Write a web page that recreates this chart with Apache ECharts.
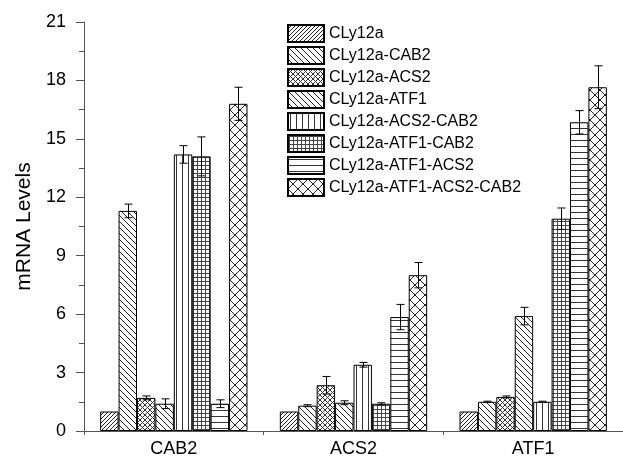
<!DOCTYPE html>
<html><head><meta charset="utf-8">
<script src="https://cdn.jsdelivr.net/npm/echarts@6/dist/echarts.min.js"></script>
<style>html,body{margin:0;padding:0;background:#fff}#c{width:623px;height:465px}</style>
</head><body><div id="c"></div>
<script>
const categories = ['CAB2', 'ACS2', 'ATF1'];
const seriesNames = ['CLy12a', 'CLy12a-CAB2', 'CLy12a-ACS2', 'CLy12a-ATF1', 'CLy12a-ACS2-CAB2', 'CLy12a-ATF1-CAB2', 'CLy12a-ATF1-ACS2', 'CLy12a-ATF1-ACS2-CAB2'];
const vCLy12a = [1.0, 1.0, 1.0];
const vCAB2 = [11.3, 1.3, 1.5];
const vACS2 = [1.7, 2.35, 1.75];
const vATF1 = [1.4, 1.45, 5.9];
const vACS2CAB2 = [14.2, 3.4, 1.5];
const vATF1CAB2 = [14.1, 1.4, 10.9];
const vATF1ACS2 = [1.4, 5.85, 15.85];
const vATF1ACS2CAB2 = [16.8, 8.0, 17.65];
const eCLy12a = [0, 0, 0];
const eCAB2 = [0.35, 0.05, 0.03];
const eACS2 = [0.1, 0.45, 0.05];
const eATF1 = [0.25, 0.1, 0.45];
const eACS2CAB2 = [0.45, 0.12, 0.03];
const eATF1CAB2 = [1.0, 0.05, 0.55];
const eATF1ACS2 = [0.2, 0.65, 0.6];
const eATF1ACS2CAB2 = [0.85, 0.65, 1.1];
const yTicks = [0, 3, 6, 9, 12, 15, 18, 21];

const values = [vCLy12a, vCAB2, vACS2, vATF1, vACS2CAB2, vATF1CAB2, vATF1ACS2, vATF1ACS2CAB2];
const errors = [eCLy12a, eCAB2, eACS2, eATF1, eACS2CAB2, eATF1CAB2, eATF1ACS2, eATF1ACS2CAB2];

function tile(s, col, draw) {
  const c = document.createElement('canvas');
  c.width = s; c.height = s;
  const g = c.getContext('2d');
  g.fillStyle = '#fff'; g.fillRect(0, 0, s, s);
  g.strokeStyle = col; g.lineWidth = 1;
  draw(g, s);
  return { image: c, repeat: 'repeat' };
}
function fwd(g, s) { g.beginPath(); g.moveTo(-1, s + 1); g.lineTo(s + 1, -1); g.moveTo(-1, 1); g.lineTo(1, -1); g.moveTo(s - 1, s + 1); g.lineTo(s + 1, s - 1); g.stroke(); }
function back(g, s) { g.beginPath(); g.moveTo(-1, -1); g.lineTo(s + 1, s + 1); g.moveTo(s - 1, -1); g.lineTo(s + 1, 1); g.moveTo(-1, s - 1); g.lineTo(1, s + 1); g.stroke(); }
const patterns = [
  tile(4, '#222', fwd),
  tile(6, '#222', back),
  tile(5, '#333', (g, s) => { fwd(g, s); back(g, s); }),
  tile(6, '#222', back),
  tile(6, '#333', (g, s) => { g.beginPath(); g.moveTo(2.5, 0); g.lineTo(2.5, s); g.stroke(); }),
  tile(4, '#444', (g, s) => { g.beginPath(); g.moveTo(1.5, 0); g.lineTo(1.5, s); g.moveTo(0, 1.5); g.lineTo(s, 1.5); g.stroke(); }),
  tile(6, '#333', (g, s) => { g.beginPath(); g.moveTo(0, 2.5); g.lineTo(s, 2.5); g.stroke(); }),
  tile(10, '#222', (g, s) => { fwd(g, s); back(g, s); })
];

const barSeries = seriesNames.map((n, i) => ({
  name: n, type: 'bar', data: values[i],
  barGap: '0%', barCategoryGap: '18%',
  itemStyle: { color: patterns[i], borderColor: '#000', borderWidth: 1 },
  emphasis: { disabled: true }
}));

const errData = [];
for (let s = 0; s < seriesNames.length; s++) {
  for (let c = 0; c < categories.length; c++) {
    errData.push([c, s, values[s][c], errors[s][c]]);
  }
}

const chart = echarts.init(document.getElementById('c'));
chart.setOption({
  animation: false,
  backgroundColor: '#fff',
  grid: { left: 84, width: 540, top: 22, bottom: 34, containLabel: false },
  legend: {
    data: seriesNames, orient: 'vertical', left: 287, top: 24, padding: 0,
    icon: 'rect', itemWidth: 36, itemHeight: 17, itemGap: 3,
    textStyle: { fontFamily: 'Liberation Sans', fontSize: 16, color: '#000' },
    selectedMode: false
  },
  xAxis: [{
    type: 'category', data: categories,
    axisLine: { lineStyle: { color: '#555', width: 1 } },
    axisTick: { alignWithLabel: true, length: 8, lineStyle: { color: '#555' } },
    axisLabel: { fontFamily: 'Liberation Sans', fontSize: 18, color: '#000', margin: 9 }
  }, {
    type: 'category', data: categories, position: 'bottom',
    axisLine: { show: false },
    axisTick: { show: true, length: 4, lineStyle: { color: '#555' } },
    axisLabel: { show: false }
  }],
  yAxis: {
    type: 'value', min: 0, max: 21, interval: 3,
    name: 'mRNA Levels', nameLocation: 'middle', nameGap: 30,
    nameTextStyle: { fontFamily: 'Liberation Sans', fontSize: 21, color: '#000' },
    axisLine: { show: true, lineStyle: { color: '#555', width: 1 } },
    axisTick: { show: true, length: 8, lineStyle: { color: '#555' } },
    minorTick: { show: true, splitNumber: 2, length: 5, lineStyle: { color: '#555' } },
    splitLine: { show: false },
    axisLabel: { fontFamily: 'Liberation Sans', fontSize: 18, color: '#000', margin: 18,
      formatter: v => yTicks.indexOf(v) >= 0 ? String(v) : '' }
  },
  series: barSeries.concat([{
    type: 'custom', name: 'err', z: 5, silent: true,
    data: errData,
    encode: { x: 0, y: 2 },
    renderItem: function (params, api) {
      const c = api.value(0), s = api.value(1), v = api.value(2), e = api.value(3);
      if (!(e > 0)) return null;
      const band = api.size([1, 0])[0];
      const gw = band * 0.82, bw = gw / 8;
      const center = api.coord([c, 0])[0];
      const x = Math.round(center - gw / 2 + (s + 0.5) * bw) + 0.5;
      const yt = api.coord([c, v + e])[1];
      const yb = api.coord([c, v - e])[1];
      const st = { stroke: '#000', lineWidth: 1 };
      return { type: 'group', children: [
        { type: 'line', shape: { x1: x, y1: yt, x2: x, y2: yb }, style: st },
        { type: 'line', shape: { x1: x - 4, y1: yt, x2: x + 4, y2: yt }, style: st },
        { type: 'line', shape: { x1: x - 4, y1: yb, x2: x + 4, y2: yb }, style: st }
      ]};
    }
  }])
});
</script></body></html>
